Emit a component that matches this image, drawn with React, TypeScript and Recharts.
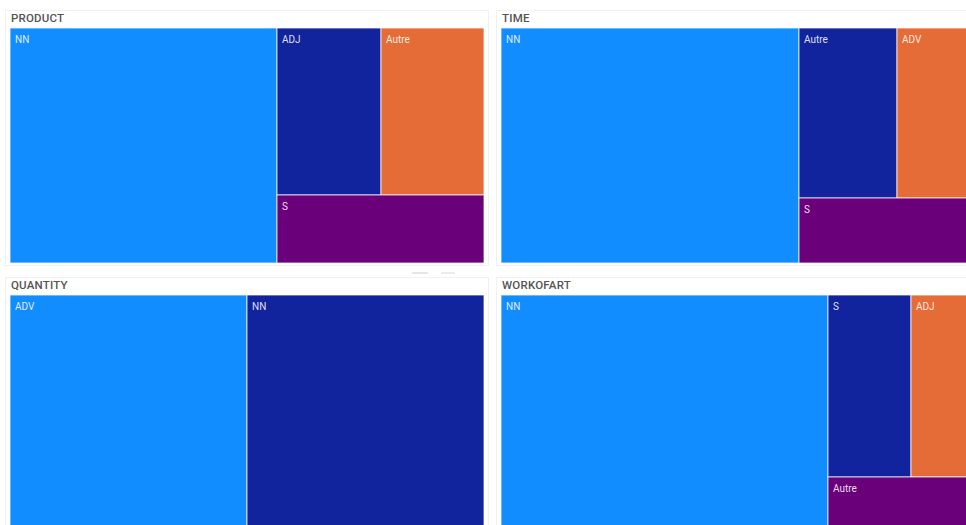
import React from 'react';
import { Treemap } from 'recharts';

const productNames = ['NN', 'ADJ', 'Autre', 'S'];
const productValues = [56.3, 15.55, 15.55, 12.6];

const timeNames = ['NN', 'Autre', 'ADV', 'S'];
const timeValues = [62.9, 14.9, 12.0, 10.2];

const quantityNames = ['ADV', 'NN'];
const quantityValues = [50.1, 49.9];

const workNames = ['NN', 'S', 'ADJ', 'Autre'];
const workValues = [69.0, 13.6, 10.4, 7.0];

const panelTitles = ['PRODUCT', 'TIME', 'QUANTITY', 'WORKOFART'];

const palette = ['#118DFF', '#12239E', '#E66C37', '#6B007B'];

const build = (names: string[], values: number[]) =>
  names.map((name, i) => ({ name, value: values[i] }));

const CellContent = (props: any) => {
  const { x, y, width, height, depth, index, name } = props;
  if (depth !== 1) return null;
  return (
    <g>
      <rect
        x={x}
        y={y}
        width={width}
        height={height}
        fill={palette[index % palette.length]}
        stroke="#ffffff"
        strokeOpacity={0.75}
        strokeWidth={1}
      />
      <text
        x={x + 5}
        y={y + 15}
        fill="#ffffff"
        fillOpacity={0.88}
        fontSize={10}
        fontFamily="Roboto, 'DejaVu Sans', sans-serif"
      >
        {name}
      </text>
    </g>
  );
};

const Panel = ({ left, top, title, data }: { left: number; top: number; title: string; data: any[] }) => (
  <div style={{ position: 'absolute', left, top, width: 484, height: 256 }}>
    <div
      style={{
        position: 'absolute',
        left: 0,
        top: 0,
        width: 484,
        height: 256,
        border: '1px solid #f1f1f1',
        boxSizing: 'border-box',
      }}
    />
    <div
      style={{
        position: 'absolute',
        left: 6,
        top: 1,
        fontFamily: "Roboto, 'DejaVu Sans', sans-serif",
        fontSize: 11.5,
        fontWeight: 500,
        color: '#555555',
        letterSpacing: 0.2,
      }}
    >
      {title}
    </div>
    <div style={{ position: 'absolute', left: 5, top: 18 }}>
      <Treemap
        width={474}
        height={235}
        data={data}
        dataKey="value"
        nameKey="name"
        aspectRatio={0.5 * (1 + Math.sqrt(5))}
        isAnimationActive={false}
        content={<CellContent />}
      />
    </div>
  </div>
);

export default function App() {
  return (
    <div
      style={{
        position: 'fixed',
        left: 0,
        top: 0,
        width: 966,
        height: 525,
        overflow: 'hidden',
        background: '#ffffff',
      }}
    >
      <Panel left={5} top={10} title={panelTitles[0]} data={build(productNames, productValues)} />
      <Panel left={496} top={10} title={panelTitles[1]} data={build(timeNames, timeValues)} />
      <Panel left={5} top={277} title={panelTitles[2]} data={build(quantityNames, quantityValues)} />
      <Panel left={496} top={277} title={panelTitles[3]} data={build(workNames, workValues)} />
      <div style={{ position: 'absolute', left: 412, top: 272, width: 16, height: 2, background: '#e6e6e6' }} />
      <div style={{ position: 'absolute', left: 441, top: 272, width: 14, height: 2, background: '#ececec' }} />
    </div>
  );
}
